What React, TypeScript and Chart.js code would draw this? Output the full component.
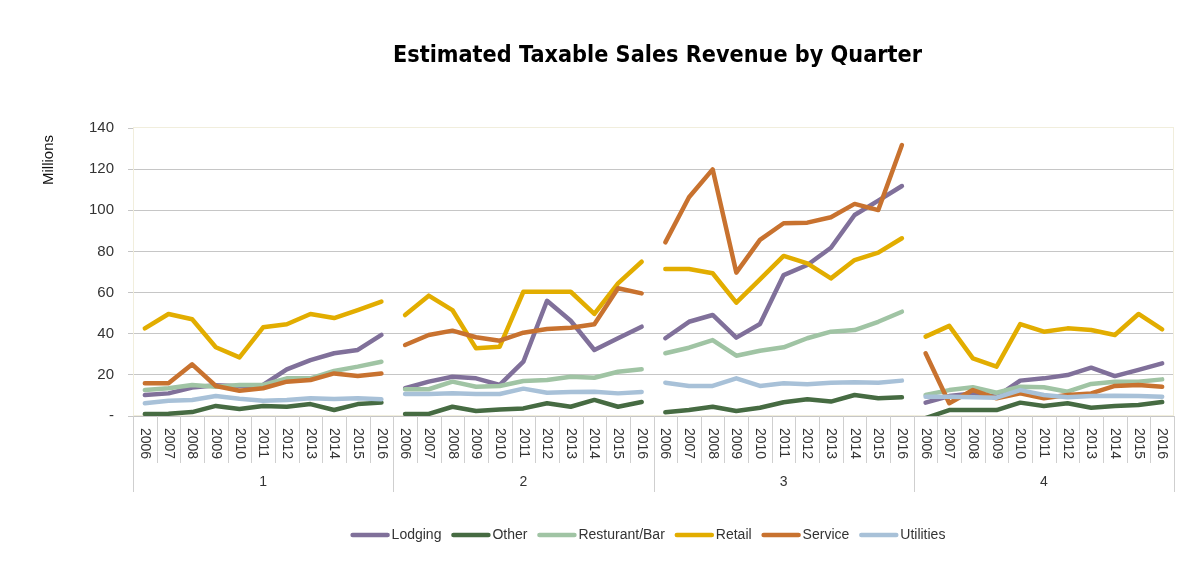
import React, { useEffect, useRef } from "react";
import { Chart, registerables } from "chart.js";

Chart.register(...registerables);

const years = ["2006", "2007", "2008", "2009", "2010", "2011", "2012", "2013", "2014", "2015", "2016"];
const quarters = ["1", "2", "3", "4"];
const seriesNames = ["Lodging", "Other", "Resturant/Bar", "Retail", "Service", "Utilities"];
const seriesColors = ["#80709a", "#466b42", "#a0c4a4", "#e2ad00", "#c8722f", "#a8c1d8"];

// values in millions, Q1 (2006-2016), Q2, Q3, Q4
const lodging = [
  10.2, 11.0, 13.8, 15.0, 14.5, 15.1, 22.7, 27.2, 30.5, 32.1, 39.4,
  13.5, 16.7, 19.1, 18.3, 15.1, 26.4, 56.0, 46.3, 32.1, 37.8, 43.4,
  37.8, 45.8, 49.1, 38.1, 44.7, 68.5, 73.4, 81.8, 97.7, 104.7, 111.8,
  6.5, 9.7, 11.0, 9.4, 17.2, 18.3, 19.9, 23.5, 19.4, 22.4, 25.6,
];
const other = [
  1.0, 1.1, 1.9, 4.9, 3.4, 4.9, 4.5, 5.8, 2.9, 5.8, 6.5,
  1.0, 1.0, 4.5, 2.4, 3.2, 3.7, 6.2, 4.5, 7.8, 4.5, 6.8,
  1.8, 2.9, 4.5, 2.4, 4.0, 6.7, 8.1, 7.0, 10.2, 8.6, 9.1,
  -1.0, 2.9, 2.9, 2.9, 6.5, 4.9, 6.2, 4.0, 4.9, 5.3, 6.8,
];
const restaurantBar = [
  12.6, 13.5, 15.1, 14.2, 15.1, 15.1, 18.3, 18.3, 21.9, 24.0, 26.4,
  13.0, 13.0, 16.7, 14.2, 14.6, 17.0, 17.5, 19.1, 18.6, 21.5, 22.7,
  30.5, 33.2, 36.9, 29.3, 31.7, 33.4, 37.8, 41.0, 41.8, 45.8, 50.7,
  10.2, 12.6, 14.0, 11.3, 14.2, 14.0, 11.8, 15.6, 16.7, 16.7, 17.8,
];
const retail = [
  42.6, 49.6, 47.0, 33.4, 28.5, 43.1, 44.6, 49.6, 47.6, 51.5, 55.6,
  49.1, 58.5, 51.5, 32.9, 33.7, 60.4, 60.4, 60.4, 49.6, 64.5, 75.0,
  71.5, 71.5, 69.4, 55.1, 66.4, 77.8, 74.2, 66.9, 75.8, 79.4, 86.4,
  38.6, 43.8, 28.0, 24.0, 44.7, 41.0, 42.6, 41.8, 39.4, 49.6, 42.1,
];
const service = [
  15.9, 15.9, 25.1, 14.6, 12.3, 13.5, 16.7, 17.5, 20.7, 19.4, 20.7,
  34.5, 39.4, 41.5, 38.3, 36.6, 40.5, 42.3, 42.9, 44.6, 62.1, 59.6,
  84.4, 106.3, 119.9, 69.7, 85.6, 93.7, 94.0, 96.6, 103.1, 100.1, 131.7,
  30.5, 6.2, 12.6, 8.6, 11.0, 8.6, 10.2, 11.0, 14.6, 15.1, 14.2,
];
const utilities = [
  6.2, 7.4, 7.8, 9.7, 8.4, 7.4, 7.8, 8.6, 8.3, 8.6, 8.1,
  10.7, 10.7, 11.0, 10.7, 10.7, 13.3, 11.3, 11.7, 11.8, 11.0, 11.7,
  16.2, 14.6, 14.6, 18.3, 14.6, 15.9, 15.4, 16.2, 16.4, 16.2, 17.2,
  9.4, 9.4, 9.1, 8.9, 12.6, 10.2, 9.1, 9.7, 9.9, 9.7, 9.4,
];
const seriesValues = [lodging, other, restaurantBar, retail, service, utilities];

const yTicksMax = 140;
const yStep = 20;
const titleText = "Estimated Taxable Sales Revenue by Quarter";
const axisTitle = "Millions";

const FONT = "'Liberation Sans', Arial, sans-serif";
const GRID = "#c6c6c6";
const SEP = "#cfcfcf";

const labels = quarters.flatMap((q) => years.map((y) => `${q}-${y}`));

const decorPlugin = {
  id: "decor",
  beforeDatasetsDraw(chart: any) {
    const { ctx, chartArea } = chart;
    ctx.save();
    ctx.strokeStyle = "#f1eedd";
    ctx.lineWidth = 1;
    ctx.strokeRect(chartArea.left + 0.5, chartArea.top - 0.5, chartArea.right - chartArea.left - 1, chartArea.bottom - chartArea.top);
    ctx.restore();
  },
  afterDraw(chart: any) {
    const { ctx, chartArea } = chart;
    const xs = chart.scales.x;
    const n = labels.length;
    const step = xs.getPixelForValue(1) - xs.getPixelForValue(0);
    const bottom = chartArea.bottom;
    ctx.save();
    // separators
    ctx.strokeStyle = SEP;
    ctx.lineWidth = 1;
    for (let i = 0; i <= n; i++) {
      const bx = Math.round(xs.getPixelForValue(0) - step / 2 + i * step) + 0.5;
      const len = i % years.length === 0 ? 76 : 47;
      ctx.beginPath();
      ctx.moveTo(bx, bottom);
      ctx.lineTo(bx, bottom + len);
      ctx.stroke();
    }
    // year labels rotated clockwise
    ctx.fillStyle = "#333333";
    ctx.font = `14px ${FONT}`;
    ctx.textAlign = "left";
    ctx.textBaseline = "middle";
    for (let i = 0; i < n; i++) {
      const x = xs.getPixelForValue(i);
      ctx.save();
      ctx.translate(x, bottom + 12);
      ctx.rotate(Math.PI / 2);
      ctx.fillText(years[i % years.length], 0, 0);
      ctx.restore();
    }
    // quarter labels
    ctx.textAlign = "center";
    quarters.forEach((q, qi) => {
      const a = xs.getPixelForValue(qi * years.length);
      const b = xs.getPixelForValue(qi * years.length + years.length - 1);
      ctx.fillText(q, (a + b) / 2, bottom + 66);
    });
    // axis title
    ctx.save();
    ctx.font = `15px ${FONT}`;
    ctx.fillStyle = "#111111";
    ctx.translate(49, 160);
    ctx.rotate(-Math.PI / 2);
    ctx.textAlign = "center";
    ctx.textBaseline = "middle";
    ctx.fillText(axisTitle, 0, 0);
    ctx.restore();
    // chart title, fitted to width
    ctx.save();
    ctx.font = `bold 23px 'DejaVu Sans', ${FONT}`;
    ctx.fillStyle = "#000000";
    const tw = ctx.measureText(titleText).width;
    const target = 529;
    ctx.translate(657.5, 62);
    ctx.scale(target / tw, 1);
    ctx.textAlign = "center";
    ctx.textBaseline = "alphabetic";
    ctx.fillText(titleText, 0, 0);
    ctx.restore();
    // legend
    ctx.font = `14px ${FONT}`;
    ctx.textBaseline = "middle";
    ctx.textAlign = "left";
    const sw = 39;
    const gapText = 2;
    const gapItem = 10;
    const widths = seriesNames.map((s) => ctx.measureText(s).width);
    const total = widths.reduce((a, w) => a + sw + gapText + w, 0) + gapItem * (seriesNames.length - 1);
    let lx = 648 - total / 2;
    const ly = 535;
    seriesNames.forEach((s, i) => {
      ctx.strokeStyle = seriesColors[i];
      ctx.lineWidth = 4.5;
      ctx.lineCap = "round";
      ctx.beginPath();
      ctx.moveTo(lx + 2, ly);
      ctx.lineTo(lx + sw - 2, ly);
      ctx.stroke();
      ctx.fillStyle = "#333333";
      ctx.fillText(s, lx + sw + gapText, ly);
      lx += sw + gapText + widths[i] + gapItem;
    });
    ctx.restore();
  },
};

export default function App() {
  const ref = useRef<HTMLCanvasElement | null>(null);
  useEffect(() => {
    document.body.style.margin = "0";
    const canvas = ref.current;
    if (!canvas) return;
    const groupLen = years.length;
    const chart = new Chart(canvas, {
      type: "line",
      data: {
        labels,
        datasets: seriesNames.map((name, i) => ({
          label: name,
          data: seriesValues[i],
          borderColor: seriesColors[i],
          backgroundColor: seriesColors[i],
          borderWidth: 4.5,
          pointRadius: 0,
          pointHoverRadius: 0,
          tension: 0,
          fill: false,
          borderJoinStyle: "round" as const,
          borderCapStyle: "round" as const,
          order: seriesNames.length - i,
          segment: {
            borderColor: (c: any) => (c.p0DataIndex % groupLen === groupLen - 1 ? "rgba(0,0,0,0)" : undefined),
          },
        })),
      },
      options: {
        responsive: false,
        devicePixelRatio: 1,
        animation: false,
        layout: { padding: { top: 128, right: 12, bottom: 0, left: 0 } },
        plugins: {
          legend: { display: false },
          title: { display: false },
          tooltip: { enabled: false },
        },
        scales: {
          x: {
            type: "category",
            offset: true,
            grid: { display: false },
            border: { display: false },
            ticks: { display: false },
            afterFit: (s: any) => {
              s.height = 150;
            },
          },
          y: {
            min: 0,
            max: yTicksMax,
            ticks: {
              stepSize: yStep,
              padding: 14,
              color: "#333333",
              font: { family: FONT, size: 15 },
              callback: (v: any) => (v === 0 ? "-" : String(v)),
            },
            grid: {
              color: (c: any) => (c.tick && c.tick.value === yTicksMax ? "rgba(0,0,0,0)" : GRID),
              tickColor: GRID,
              tickLength: 5,
              lineWidth: 1,
            },
            border: { display: true, color: GRID },
            afterFit: (s: any) => {
              s.width = 133;
            },
          },
        },
      },
      plugins: [decorPlugin],
    });
    return () => chart.destroy();
  }, []);
  return (
    <div style={{ width: 1186, height: 566, background: "#ffffff" }}>
      <canvas ref={ref} width={1186} height={566} style={{ display: "block" }} />
    </div>
  );
}
